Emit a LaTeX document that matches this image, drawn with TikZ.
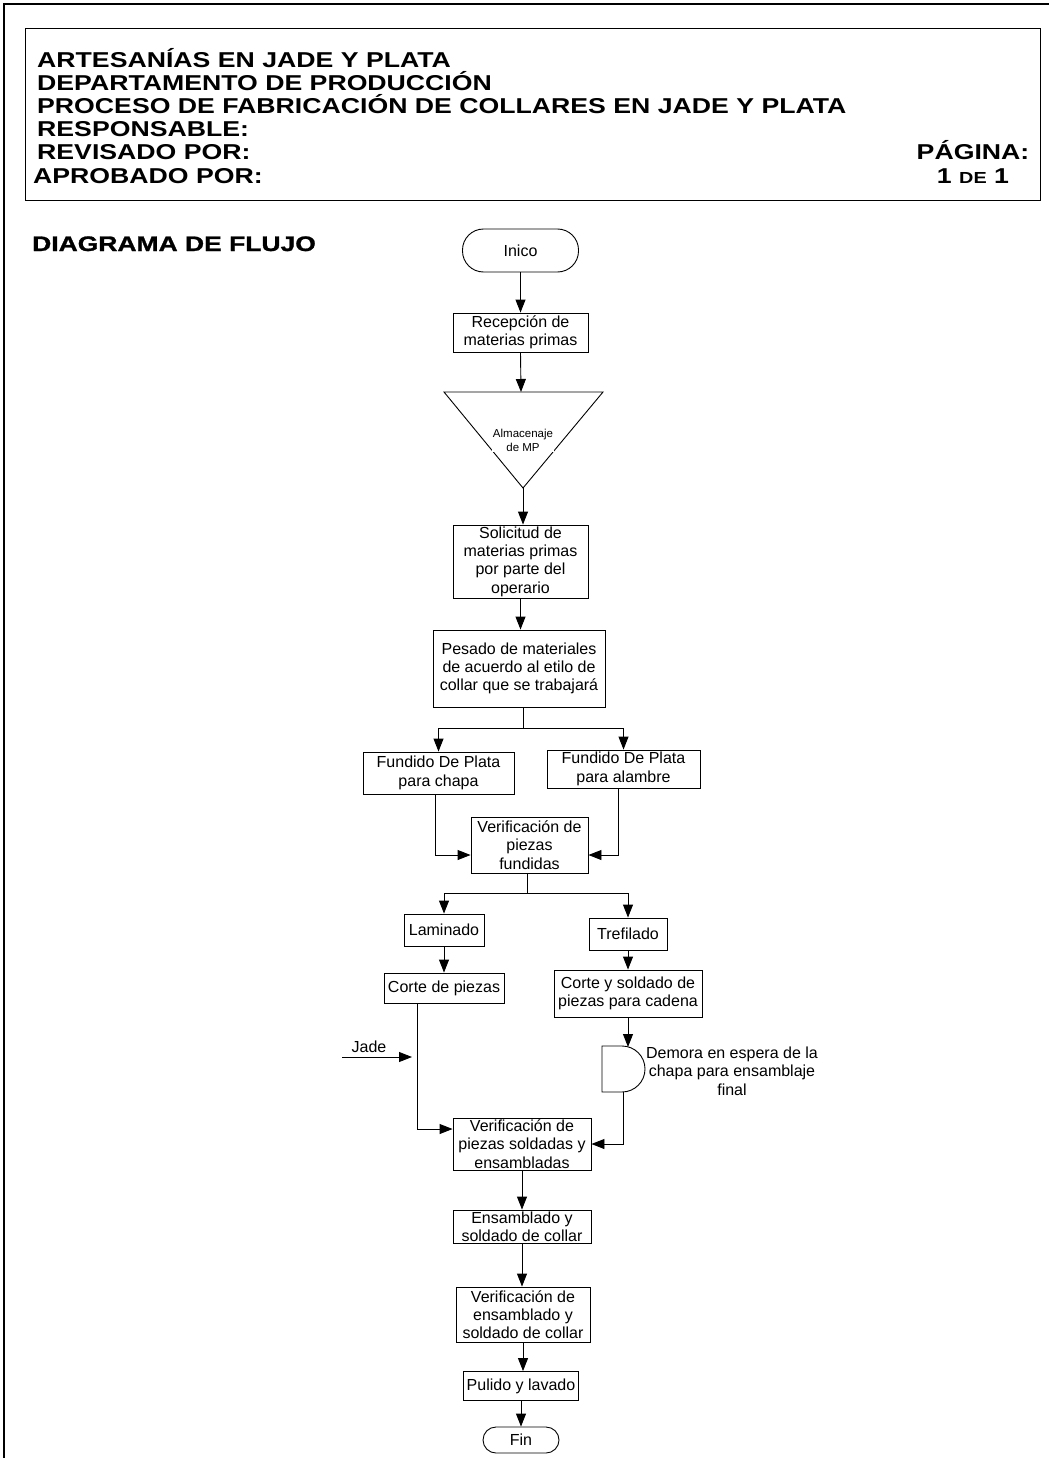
\documentclass[tikz,border=0pt]{standalone}
\usepackage{fontspec}
\setmainfont{Liberation Sans}
\newfontfamily\headfont{Liberation Sans}[FakeStretch=1.24]
\newfontfamily\flujofont{Liberation Sans}[FakeStretch=1.26,FakeBold=1.2]
\usetikzlibrary{arrows.meta}
\usetikzlibrary{calc}
\tikzset{
    procbox/.style={draw, line width=0.9pt, align=center, inner sep=1pt,
        font=\fontsize{16}{18.3}\selectfont},
    termbox/.style={procbox, rounded corners=#1},
    flow/.style={draw, line width=0.9pt, -{Triangle[length=13pt,width=10pt]}},
    headline/.style={anchor=base west, inner sep=0pt,
        font=\headfont\bfseries\fontsize{21.5}{21.5}\selectfont}
}
\begin{document}
\begin{tikzpicture}[x=1pt,y=-1pt]
\useasboundingbox (0,0) rectangle (1049,1458);
% marco y encabezado
\draw[line width=1.2pt] (4,1458) -- (4,4) -- (1049,4);
\draw[line width=0.9pt] (25,28) rectangle (1040,200);
\foreach \hx/\hy/\nm/\txt in {37/68/hdA/{ARTESANÍAS EN JADE Y PLATA}, 37/91/hdB/{DEPARTAMENTO DE PRODUCCIÓN}, 37/114/hdC/{PROCESO DE FABRICACIÓN DE COLLARES EN JADE Y PLATA}, 37/137/hdD/{RESPONSABLE:}, 37/160/hdE/{REVISADO POR:}, 33/184/hdF/{APROBADO POR:}}{
    \node[headline] (\nm) at (\hx,\hy) {\txt};
}
\node[headline, anchor=base] (pag) at (973,160) {PÁGINA:};
\node[headline, anchor=base] (pagnum) at (973,184) {1 {\fontsize{16}{16}\selectfont DE} 1};
\node[anchor=base west, inner sep=0pt, font=\flujofont\bfseries\fontsize{21}{21}\selectfont] (titulo) at (32,251) {DIAGRAMA DE FLUJO};
% nodos del diagrama
\node[termbox=21pt, minimum width=116, minimum height=43] (inico) at (520.5,250.5) {Inico};
\foreach \cx/\cy/\w/\h/\nm/\txt in {
    520.5/332.5/135/39/recep/{Recepción de\\materias primas},
    520.5/561.5/135/73/solic/{Solicitud de\\materias primas\\por parte del\\operario},
    519/668.5/172/77/pesado/{Pesado de materiales\\de acuerdo al etilo de\\collar que se trabajará},
    438.5/773/151/42/fchapa/{Fundido De Plata\\para chapa},
    623.5/769/153/38/falam/{Fundido De Plata\\para alambre},
    529.5/845/117/56/verif1/{Verificación de\\piezas\\fundidas},
    444/930/80/32/lamin/{Laminado},
    628/934/78/32/trefil/{Trefilado},
    444/988/120/30/corte/{Corte de piezas},
    628/993.5/148/47/cortesold/{Corte y soldado de\\piezas para cadena},
    522/1144/138/52/verif2/{Verificación de\\piezas soldadas y\\ensambladas},
    522/1226.5/138/33/ensam/{Ensamblado y\\soldado de collar},
    523/1314.5/134/55/verif3/{Verificación de\\ensamblado y\\soldado de collar},
    521/1386/115/29/pulido/{Pulido y lavado}}{
    \node[procbox, minimum width=\w, minimum height=\h] (\nm) at (\cx,\cy) {\txt};
}
\node[termbox=13pt, minimum width=76, minimum height=26] (fin) at (521,1440) {Fin};
% almacenaje
\coordinate (almtop) at (521,392);
\coordinate (almbot) at (523,488);
\draw[line width=0.9pt] (444,392) -- (603,392) -- (almbot) -- cycle;
\node[fill=white, inner sep=1pt, align=center, font=\fontsize{11.5}{14}\selectfont] (almtxt) at (523,440) {Almacenaje\\de MP};
% demora
\coordinate (demtop) at (628,1047);
\coordinate (dembot) at (623,1092);
\draw[line width=0.9pt] (602,1046) -- (622,1046) arc (-90:90:23) -- (602,1092) -- cycle;
\node[align=center, font=\fontsize{16}{18.3}\selectfont] (demtxt) at (732,1071) {Demora en espera de la\\chapa para ensamblaje\\final};
% entrada de jade
\coordinate (jadesrc) at (342,1057);
\coordinate (jadein) at (412,1057);
\draw[flow] (jadesrc) -- (jadein);
\node[font=\fontsize{16}{18.3}\selectfont] (jadetxt) at (369,1047) {Jade};
% conectores
\draw[flow] (inico) -- (recep);
\draw[flow] (recep.south) -- (almtop);
\draw[flow] (almbot) -- (almbot |- solic.north);
\draw[flow] (solic.south) -- (solic.south |- pesado.north);
\coordinate (split1) at (523,728);
\draw[line width=0.9pt] (pesado.south -| split1) -- (split1);
\draw[flow] (split1) -| (fchapa.north);
\draw[flow] (split1) -| (falam.north);
\draw[flow] ([xshift=-3.5pt]fchapa.south) |- ([yshift=-10pt]verif1.west);
\draw[flow] ([xshift=-5.5pt]falam.south) |- ([yshift=-10pt]verif1.east);
\coordinate (split2) at (527,893);
\draw[line width=0.9pt] (verif1.south -| split2) -- (split2);
\draw[flow] (split2) -| (lamin.north);
\draw[flow] (split2) -| (trefil.north);
\draw[flow] (lamin) -- (corte);
\draw[flow] (trefil) -- (cortesold);
\draw[flow] (cortesold.south) -- (demtop);
\draw[flow] (dembot) |- (verif2.east);
\draw[flow] ([xshift=-27pt]corte.south) |- ([yshift=15pt]verif2.west);
\draw[flow] (verif2) -- (ensam);
\draw[flow] (ensam.south) -- (ensam.south |- verif3.north);
\draw[flow] (verif3.south) -- (verif3.south |- pulido.north);
\draw[flow] (pulido.south) -- (pulido.south |- fin.north);
\end{tikzpicture}
\end{document}
